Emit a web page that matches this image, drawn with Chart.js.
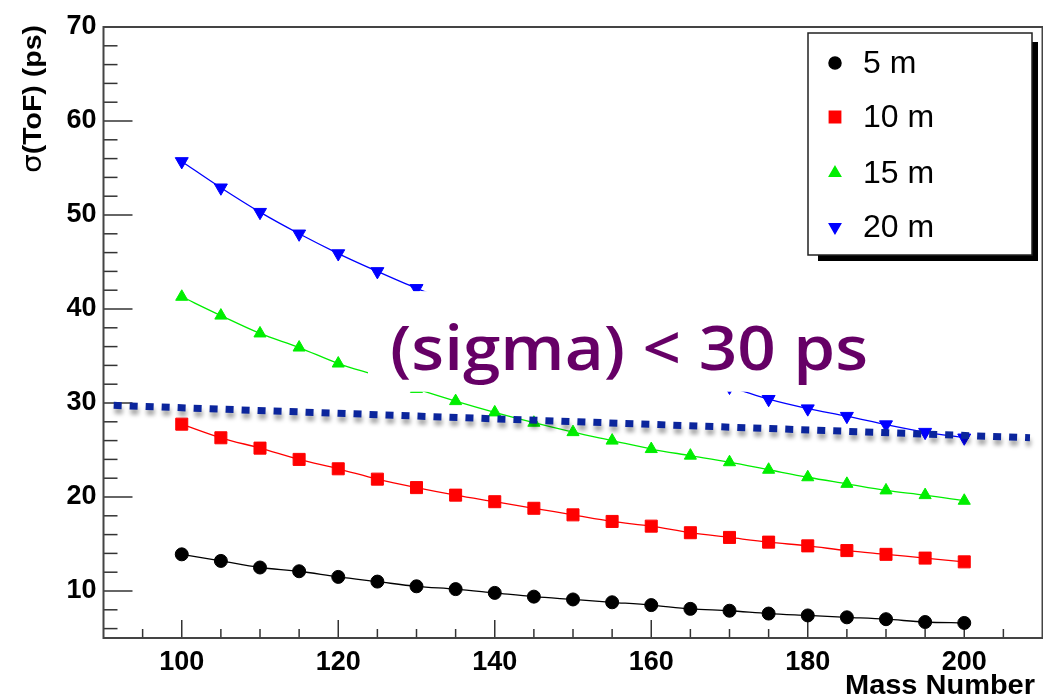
<!DOCTYPE html>
<html>
<head>
<meta charset="utf-8">
<script src="https://cdn.jsdelivr.net/npm/chart.js@4.4.0/dist/chart.umd.min.js"></script>
<style>
  body { margin: 0; background: #fff; }
  canvas { display: block; }
</style>
</head>
<body>
<canvas id="tofChart" width="1043" height="698"></canvas>
<script>
// values
const massNumbers = [100, 105, 110, 115, 120, 125, 130, 135, 140, 145, 150, 155, 160, 165, 170, 175, 180, 185, 190, 195, 200];
const tof5m = [13.9, 13.2, 12.5, 12.1, 11.5, 11.0, 10.5, 10.2, 9.8, 9.4, 9.1, 8.8, 8.5, 8.1, 7.9, 7.6, 7.4, 7.2, 7.0, 6.7, 6.6];
const tof10m = [27.75, 26.3, 25.2, 24.0, 23.0, 21.9, 21.0, 20.2, 19.5, 18.8, 18.1, 17.4, 16.9, 16.2, 15.7, 15.2, 14.8, 14.3, 13.9, 13.5, 13.1];
const tof15m = [41.3, 39.3, 37.4, 35.9, 34.2, 32.9, 31.5, 30.2, 29.0, 27.9, 26.9, 26.0, 25.1, 24.4, 23.7, 22.9, 22.1, 21.4, 20.7, 20.2, 19.6];
const tof20m = [55.7, 52.9, 50.3, 48.0, 45.9, 44.0, 42.2, 40.6, 39.1, 37.6, 36.2, 34.9, 33.7, 32.6, 31.7, 30.4, 29.4, 28.6, 27.7, 26.9, 26.3];
const seriesNames = ["5 m", "10 m", "15 m", "20 m"];
const xTicks = [100, 120, 140, 160, 180, 200];
const yTicks = [10, 20, 30, 40, 50, 60, 70];
// the hand-drawn "< 30 ps" limit line
const limitX = [91.3, 208.4];
const limitY = [29.75, 26.3];
const noteText = "(sigma) < 30 ps";

const toPoints = (xs, ys) => ys.map((y, i) => ({ x: xs[i], y: y }));

const series = (label, values, color, style, radius, rotation) => ({
  label: label,
  data: toPoints(massNumbers, values),
  borderColor: color,
  backgroundColor: color,
  borderWidth: 1.3,
  pointStyle: style,
  pointRadius: radius,
  pointRotation: rotation || 0,
  pointBackgroundColor: color,
  pointBorderColor: color,
  pointBorderWidth: 1,
  cubicInterpolationMode: "monotone",
});

const datasets = [
  series(seriesNames[0], tof5m, "#000000", "circle", 6.5),
  series(seriesNames[1], tof10m, "#ff0000", "rect", 8.5),
  series(seriesNames[2], tof15m, "#00ee00", "triangle", 7),
  series(seriesNames[3], tof20m, "#0000ff", "triangle", 7.5, 180),
  {
    label: "limit",
    data: toPoints(limitX, limitY),
    borderColor: "#0b259c",
    borderWidth: 7,
    borderDash: [8, 8],
    borderCapStyle: "butt",
    pointRadius: 0,
    order: -1,
  },
];

const legendBox = { x: 808, y: 33, w: 224, h: 222 };
const legendRows = [63, 117, 173, 227];
const legendSizes = [6, 8, 6.5, 6.5];

const rootStyle = {
  id: "rootStyle",
  beforeDatasetsDraw(chart) {
    const { ctx, chartArea: a, scales: { x, y } } = chart;
    ctx.save();
    ctx.strokeStyle = "#333";
    ctx.lineWidth = 1.5;
    for (let v = 6; v <= 70; v += 2) {
      const py = y.getPixelForValue(v);
      const len = v % 10 === 0 ? 29 : 14;
      ctx.beginPath();
      ctx.moveTo(a.left, py);
      ctx.lineTo(a.left + len, py);
      ctx.stroke();
    }
    for (let v = 95; v <= 205; v += 5) {
      const px = x.getPixelForValue(v);
      const len = v % 20 === 0 ? 18 : 9;
      ctx.beginPath();
      ctx.moveTo(px, a.bottom);
      ctx.lineTo(px, a.bottom - len);
      ctx.stroke();
    }
    ctx.lineWidth = 2;
    ctx.strokeStyle = "#444";
    ctx.strokeRect(a.left, a.top, a.right - a.left, a.bottom - a.top);
    ctx.restore();
  },
  beforeDatasetDraw(chart, args) {
    if (args.index === 4) {
      const ctx = chart.ctx;
      ctx.save();
      ctx.shadowColor = "rgba(0,0,0,0.35)";
      ctx.shadowBlur = 4;
      ctx.shadowOffsetX = 1;
      ctx.shadowOffsetY = 5;
    }
  },
  afterDatasetDraw(chart, args) {
    if (args.index === 4) chart.ctx.restore();
  },
  afterDatasetsDraw(chart) {
    const { ctx, scales: { x, y } } = chart;
    ctx.save();
    // white text box that hides part of the curves
    const bx = x.getPixelForValue(123.8), bx2 = x.getPixelForValue(189.3);
    const by = y.getPixelForValue(41.9), by2 = y.getPixelForValue(31.2);
    ctx.fillStyle = "#fff";
    ctx.fillRect(bx, by, bx2 - bx, by2 - by);
    ctx.font = "600 62px 'Open Sans'";
    ctx.fillStyle = "#660066";
    ctx.textBaseline = "alphabetic";
    const tw = ctx.measureText(noteText).width;
    ctx.translate(390, 370);
    ctx.scale(478 / tw, 1);
    ctx.fillText(noteText, 0, 0);
    ctx.restore();

    // legend
    ctx.save();
    ctx.fillStyle = "#000";
    ctx.fillRect(legendBox.x + 10, legendBox.y + 9, legendBox.w - 4, legendBox.h - 3);
    ctx.fillStyle = "#fff";
    ctx.fillRect(legendBox.x, legendBox.y, legendBox.w, legendBox.h);
    ctx.strokeStyle = "#222";
    ctx.lineWidth = 1.5;
    ctx.strokeRect(legendBox.x, legendBox.y, legendBox.w, legendBox.h);
    ctx.font = "32px 'Liberation Sans'";
    ctx.textBaseline = "alphabetic";
    legendRows.forEach((ry, i) => {
      const ds = chart.data.datasets[i];
      ctx.fillStyle = ds.pointBackgroundColor;
      ctx.strokeStyle = ds.pointBorderColor;
      Chart.helpers.drawPoint(ctx, {
        pointStyle: ds.pointStyle,
        radius: legendSizes[i],
        rotation: ds.pointRotation,
        borderWidth: 1,
      }, 835, ry);
      ctx.fillStyle = "#000";
      ctx.fillText(seriesNames[i], 863, ry + 10);
    });
    ctx.restore();
  },
  afterDraw(chart) {
    const ctx = chart.ctx;
    ctx.save();
    ctx.fillStyle = "#000";
    // x axis title
    ctx.font = "bold 27px 'Liberation Sans'";
    ctx.textAlign = "right";
    ctx.textBaseline = "alphabetic";
    const xw = ctx.measureText("Mass Number").width;
    ctx.translate(1035, 694);
    ctx.scale(190 / xw, 1);
    ctx.fillText("Mass Number", 0, 0);
    ctx.restore();
    // y axis title
    ctx.save();
    ctx.translate(41, 173);
    ctx.rotate(-Math.PI / 2);
    ctx.textAlign = "left";
    ctx.textBaseline = "alphabetic";
    ctx.font = "27px 'DejaVu Sans'";
    const sw = ctx.measureText("σ").width;
    ctx.font = "bold 26px 'Liberation Sans'";
    const rw = ctx.measureText("(ToF) (ps)").width;
    ctx.scale(148 / (sw + rw), 1);
    ctx.fillStyle = "#000";
    ctx.font = "27px 'DejaVu Sans'";
    ctx.fillText("σ", 0, 0);
    ctx.font = "bold 26px 'Liberation Sans'";
    ctx.fillText("(ToF) (ps)", sw, 0);
    ctx.restore();
  },
};

const tickFont = { family: "'Liberation Sans'", size: 27, weight: "bold" };

new Chart(document.getElementById("tofChart"), {
  type: "line",
  data: { datasets: datasets },
  options: {
    responsive: false,
    animation: false,
    layout: { autoPadding: false, padding: { top: 27, right: 0.5, left: 0, bottom: 0 } },
    plugins: { legend: { display: false }, tooltip: { enabled: false } },
    scales: {
      x: {
        type: "linear",
        min: 90,
        max: 210,
        grid: { display: false, drawTicks: false },
        border: { display: false },
        ticks: { font: tickFont, color: "#000", padding: 8, autoSkip: false, maxRotation: 0 },
        afterBuildTicks: (s) => { s.ticks = xTicks.map((v) => ({ value: v })); },
        afterFit: (s) => {
          s.height = 60;
          s.paddingLeft = 0;
          s.paddingRight = 0;
        },
      },
      y: {
        type: "linear",
        min: 5,
        max: 70,
        grid: { display: false, drawTicks: false },
        border: { display: false },
        ticks: { font: tickFont, color: "#000", padding: 7, autoSkip: false },
        afterBuildTicks: (s) => { s.ticks = yTicks.map((v) => ({ value: v })); },
        afterFit: (s) => {
          s.width = 103.5;
          s.paddingTop = 0;
          s.paddingBottom = 0;
        },
      },
    },
  },
  plugins: [rootStyle],
});
</script>
</body>
</html>
